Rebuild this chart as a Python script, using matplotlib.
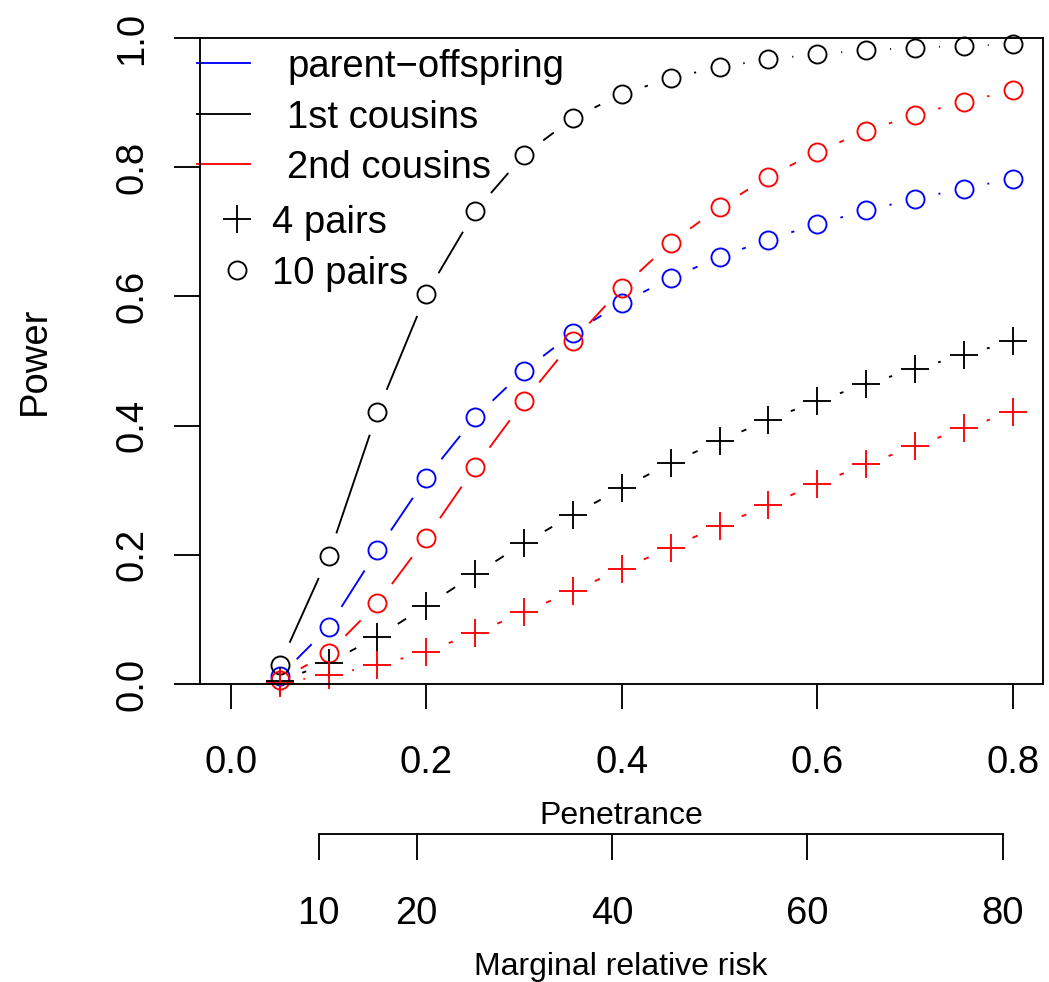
import numpy as np
import matplotlib
matplotlib.use("Agg")
import matplotlib.pyplot as plt
from matplotlib.collections import LineCollection

plt.rcParams['font.family'] = ['Liberation Sans', 'DejaVu Sans']

# ---------------- data ----------------
penetrance = [0.05, 0.10, 0.15, 0.20, 0.25, 0.30, 0.35, 0.40,
              0.45, 0.50, 0.55, 0.60, 0.65, 0.70, 0.75, 0.80]

po_10 = [0.012, 0.088, 0.207, 0.319, 0.413, 0.485, 0.543, 0.590,
         0.628, 0.661, 0.688, 0.712, 0.733, 0.751, 0.767, 0.782]
c1_10 = [0.030, 0.198, 0.421, 0.604, 0.732, 0.819, 0.876, 0.913,
         0.938, 0.955, 0.967, 0.975, 0.981, 0.985, 0.988, 0.990]
c2_10 = [0.006, 0.048, 0.125, 0.226, 0.336, 0.438, 0.531, 0.613,
         0.683, 0.738, 0.785, 0.824, 0.856, 0.881, 0.901, 0.919]
c1_4 = [0.004, 0.033, 0.073, 0.121, 0.170, 0.218, 0.262, 0.303,
        0.342, 0.376, 0.409, 0.438, 0.464, 0.488, 0.509, 0.531]
c2_4 = [0.002, 0.014, 0.029, 0.050, 0.079, 0.111, 0.144, 0.178,
        0.211, 0.245, 0.277, 0.310, 0.340, 0.368, 0.396, 0.421]

series = [
    (po_10, 'blue', 'o'),
    (c1_10, 'black', 'o'),
    (c2_10, 'red', 'o'),
    (c1_4, 'black', '+'),
    (c2_4, 'red', '+'),
]

legend_lines = [("parent\u2212offspring", 'blue'),
                ("1st cousins", 'black'),
                ("2nd cousins", 'red')]
legend_points = [("4 pairs", '+'), ("10 pairs", 'o')]

x_ticks = [0.0, 0.2, 0.4, 0.6, 0.8]
y_ticks = [0.0, 0.2, 0.4, 0.6, 0.8, 1.0]
rr_ticks = [10, 20, 40, 60, 80]

# ---------------- figure ----------------
W, H = 1049, 982
fig = plt.figure(figsize=(W / 100, H / 100), dpi=100)
L, R, T, B = 200, 1043, 38, 684
ax = fig.add_axes([L / W, 1 - B / H, (R - L) / W, (B - T) / H])
ax.set_xlim(-0.0316, 0.8310)
ax.set_ylim(0, 1)

lw = 1.35
for s in ax.spines.values():
    s.set_linewidth(lw)

ax.set_xticks(x_ticks)
ax.set_xticklabels([f"{v:.1f}" for v in x_ticks])
ax.set_yticks(y_ticks)
ax.set_yticklabels([f"{v:.1f}" for v in y_ticks])
ax.tick_params(axis='x', direction='out', length=18, width=lw, pad=26,
               labelsize=27.5)
ax.tick_params(axis='y', direction='out', length=18.7, width=lw, pad=17,
               labelsize=27.5, labelrotation=90)
for lab in ax.get_yticklabels():
    lab.set_va('center')

# secondary axis: marginal relative risk
def pen2rr(p):
    return np.asarray(p) * 100 + 1

def rr2pen(r):
    return (np.asarray(r) - 1) / 100

sec = ax.secondary_xaxis((B - 834) / (B - T), functions=(pen2rr, rr2pen))
sec.set_xticks(rr_ticks)
sec.set_xticklabels([str(v) for v in rr_ticks])
sec.tick_params(axis='x', direction='out', length=18.7, width=lw, pad=26,
                labelsize=27.5)
sec.spines['bottom'].set_linewidth(lw)
sec.spines['bottom'].set_bounds(rr_ticks[0], rr_ticks[-1])

# titles
fig.text(621 / W, 1 - 824 / H, "Penetrance", ha='center', va='baseline',
         fontsize=23)
fig.text(621 / W, 1 - 975 / H, "Marginal relative risk", ha='center',
         va='baseline', fontsize=23)
fig.text(45 / W, 1 - 361 / H, "Power", ha='center', va='baseline',
         rotation=90, rotation_mode='anchor', fontsize=27.5)

# ---------------- type "b" plotting ----------------
gap = 24.0  # pixels
for yv, col, mk in series:
    pts = ax.transData.transform(np.column_stack([penetrance, yv]))
    segs = []
    for a, b in zip(pts[:-1], pts[1:]):
        d = b - a
        dist = np.hypot(*d)
        if dist > 2 * gap:
            u = d / dist
            p0 = a + u * gap
            p1 = b - u * gap
            segs.append(ax.transData.inverted().transform(np.array([p0, p1])))
    ax.add_collection(LineCollection(segs, colors=col, linewidths=lw))
    if mk == 'o':
        ax.plot(penetrance, yv, linestyle='none', marker='o', ms=13,
                mfc='none', mec=col, mew=lw, clip_on=False)
    else:
        ax.plot(penetrance, yv, linestyle='none', marker='+', ms=19.5,
                mec=col, mew=lw, clip_on=False)

# ---------------- legend (drawn manually) ----------------
def axfrac(px, py):
    return (px - L) / (R - L), (B - py) / (B - T)

rows = [63, 114, 164]
for (txt, col), py in zip(legend_lines, rows):
    x0, y0 = axfrac(197, py)
    x1, _ = axfrac(250, py)
    ax.plot([x0, x1], [y0, y0], color=col, lw=lw, transform=ax.transAxes,
            clip_on=False)
    tx, ty = axfrac(287, py + 14)
    ax.text(tx, ty, txt, transform=ax.transAxes, ha='left', va='baseline',
            fontsize=27.5)

for (txt, mk), py in zip(legend_points, [219, 270]):
    mx, my = axfrac(237, py)
    if mk == 'o':
        ax.plot([mx], [my], marker='o', ms=13, mfc='none', mec='black',
                mew=lw, transform=ax.transAxes, linestyle='none')
    else:
        ax.plot([mx], [my], marker='+', ms=19.5, mec='black', mew=lw,
                transform=ax.transAxes, linestyle='none')
    tx, ty = axfrac(272, py + 14)
    ax.text(tx, ty, txt, transform=ax.transAxes, ha='left', va='baseline',
            fontsize=27.5)

fig.savefig("out.png", dpi=100)
